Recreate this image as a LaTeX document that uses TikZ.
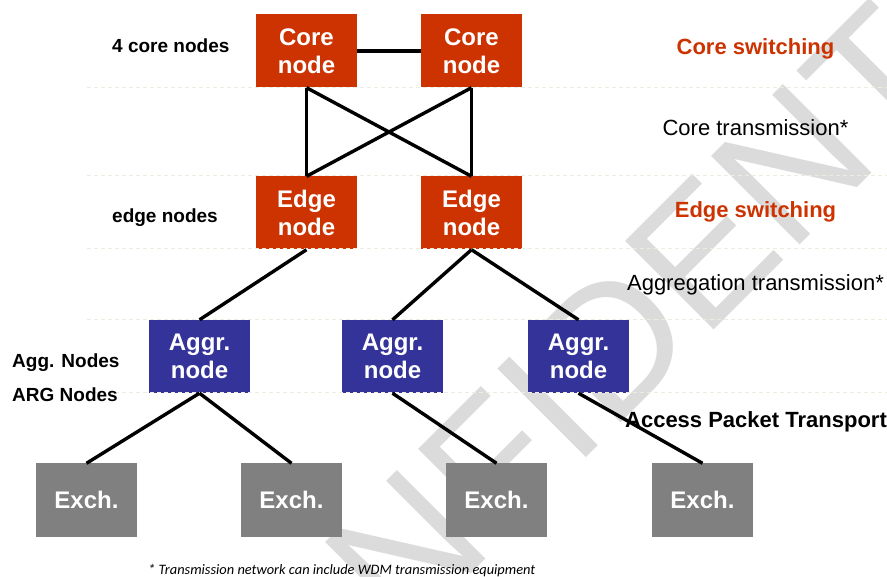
\documentclass[tikz,border=0pt]{standalone}
\usepackage{fontspec}
\setmainfont{Liberation Sans}
\newfontfamily\notefont{Carlito}
\usepackage{xcolor}
\definecolor{corered}{RGB}{204,51,0}
\definecolor{aggblue}{RGB}{51,51,153}
\definecolor{exchgray}{RGB}{128,128,128}
\definecolor{sepline}{RGB}{236,236,224}

\begin{document}
\begin{tikzpicture}[x=1pt, y=-1pt, node distance=165pt,
	box/.style={minimum width=101pt, minimum height=73pt, inner sep=0pt, align=center,
		text=white, font=\fontsize{24}{28}\selectfont\bfseries},
	core/.style={box, fill=corered},
	agg/.style={box, fill=aggblue},
	exch/.style={box, fill=exchgray},
	lbl/.style={anchor=base west, inner sep=0pt, font=\fontsize{19}{22}\selectfont\bfseries},
	layer/.style={anchor=base, inner sep=0pt, font=\fontsize{22}{26}\selectfont}]
			\clip (0,0) rectangle (887,577);
			\fill[white] (0,0) rectangle (887,577);

			\node[rotate=45, text=black!14, font=\fontsize{182}{182}\selectfont] (wm) at (638,318) {CONFIDENTIAL};

			\node[core] (c1) at (306.5,51) {Core\\node};
			\node[core] (c2)[right of = c1] {Core\\node};
			\node[core] (e1)[below of = c1, yshift=3pt] {Edge\\node};
			\node[core] (e2)[below of = c2, yshift=3pt] {Edge\\node};
			\node[agg] (a1) at (199.5,356.5) {Aggr.\\node};
			\node[agg] (a2)[right of = a1, xshift=28pt] {Aggr.\\node};
			\node[agg] (a3)[right of = a2, xshift=21pt] {Aggr.\\node};
			\node[exch] (x1) at (86.5,500) {Exch.};
			\node[exch] (x2)[right of = x1, xshift=40pt] {Exch.};
			\node[exch] (x3)[right of = x2, xshift=40pt] {Exch.};
			\node[exch] (x4)[right of = x3, xshift=41pt] {Exch.};

			\foreach \y in {88,176,249,320,393}
				\draw[sepline, line width=1pt, dash pattern=on 4pt off 3pt] (87,\y) -- (887,\y);

			\path[every edge/.style={draw, line width=3.4pt}]
				(c1) edge (c2)
				(c1.south) edge (e1.north)
				(c2.south) edge (e2.north)
				(c1.south) edge (e2.north)
				(c2.south) edge (e1.north)

				(e1.south) edge (a1.north)
				(e2.south) edge (a2.north)
				(e2.south) edge (a3.north)

				(a1.south) edge (x1.north)
				(a1.south) edge (x2.north)
				(a2.south) edge (x3.north)
				(a3.south) edge (x4.north)
			;

			\node[lbl] (l1) at (112,53) {4 core nodes};
			\node[lbl] (l2) at (112,223) {edge nodes};
			\node[lbl] (l3) at (12,368) {Agg. Nodes};
			\node[lbl] (l4) at (12,402) {ARG Nodes};

			\node[layer, font=\fontsize{22}{26}\selectfont\bfseries, text=corered] (r1) at (755.5,55) {Core switching};
			\node[layer] (r2) at (755.5,136) {Core transmission*};
			\node[layer, font=\fontsize{22}{26}\selectfont\bfseries, text=corered] (r3) at (755.5,218) {Edge switching};
			\node[layer] (r4) at (755.5,291) {Aggregation transmission*};
			\node[layer, font=\fontsize{22}{26}\selectfont\bfseries] (r5) at (756,428) {Access Packet Transport};

			\node[anchor=base west, inner sep=0pt, font=\notefont\itshape\fontsize{14.4}{17}\selectfont] (fn) at (148,574) {* Transmission network can include WDM transmission equipment};
		\end{tikzpicture}
\end{document}
